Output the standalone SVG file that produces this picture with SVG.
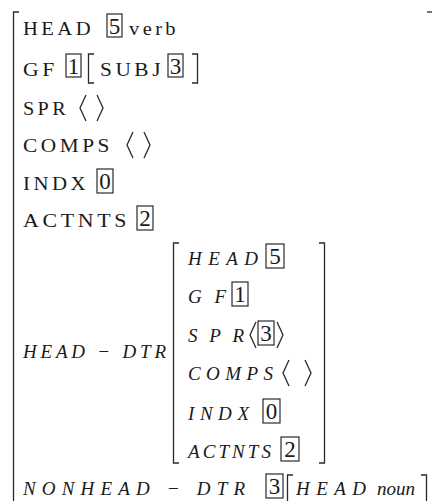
<svg xmlns="http://www.w3.org/2000/svg" width="432" height="501" viewBox="0 0 432 501">
  <style>
    .f { font-family: "Liberation Serif", "Times New Roman", serif; font-size: 18px; letter-spacing: 3px; fill: #1a1a1a; }
    .fi { font-family: "Liberation Serif", "Times New Roman", serif; font-size: 19px; font-style: italic; fill: #1a1a1a; }
    .tag { font-family: "Liberation Serif", "Times New Roman", serif; font-size: 23px; fill: #1a1a1a; text-anchor: middle; }
    .br { fill: none; stroke: #2a2a2a; stroke-width: 1.3; }
    .box { fill: none; stroke: #2a2a2a; stroke-width: 1.2; }
  </style>
  <rect width="432" height="501" fill="#ffffff"/>

  <!-- outer AVM brackets -->
  <g id="outer">
    <path class="br" d="M19,12 H13.5 V501"/>
    <path class="br" d="M427,12 H432"/>
  </g>

  <!-- HEAD [5] verb -->
  <g id="head">
    <text class="f" x="23" y="35" textLength="71" lengthAdjust="spacingAndGlyphs">HEAD</text>
    <rect class="box" x="107" y="14" width="15" height="23"/>
    <text class="tag" x="114.5" y="34">5</text>
    <text class="f" x="129" y="35" textLength="50" lengthAdjust="spacingAndGlyphs">verb</text>
  </g>

  <!-- GF [1][SUBJ [3]] -->
  <g id="gf">
    <text class="f" x="23" y="76" textLength="35" lengthAdjust="spacingAndGlyphs">GF</text>
    <rect class="box" x="66" y="54" width="15" height="23"/>
    <text class="tag" x="73.5" y="74">1</text>
    <path class="br" d="M94,54 H88.5 V83 H94"/>
    <text class="f" x="100" y="76" textLength="64" lengthAdjust="spacingAndGlyphs">SUBJ</text>
    <rect class="box" x="168" y="54" width="15" height="23"/>
    <text class="tag" x="175.5" y="74">3</text>
    <path class="br" d="M192,54 H197.5 V83 H192"/>
  </g>

  <!-- SPR < > -->
  <g id="spr">
    <text class="f" x="23" y="115" textLength="46" lengthAdjust="spacingAndGlyphs">SPR</text>
    <path class="br" d="M86,95 L80,108 L86,121"/>
    <path class="br" d="M97,95 L103,108 L97,121"/>
  </g>

  <!-- COMPS < > -->
  <g id="comps">
    <text class="f" x="23" y="152" textLength="90" lengthAdjust="spacingAndGlyphs">COMPS</text>
    <path class="br" d="M133,132 L127,145 L133,158"/>
    <path class="br" d="M144,132 L150,145 L144,158"/>
  </g>

  <!-- INDX [0] -->
  <g id="indx">
    <text class="f" x="23" y="190" textLength="66" lengthAdjust="spacingAndGlyphs">INDX</text>
    <rect class="box" x="97" y="169" width="16" height="24"/>
    <text class="tag" x="105" y="189">0</text>
  </g>

  <!-- ACTNTS [2] -->
  <g id="actnts">
    <text class="f" x="23" y="227" textLength="107" lengthAdjust="spacingAndGlyphs">ACTNTS</text>
    <rect class="box" x="137" y="206" width="16" height="24"/>
    <text class="tag" x="145" y="226">2</text>
  </g>

  <!-- HEAD-DTR with embedded AVM -->
  <g id="head-dtr">
    <text class="fi" x="23" y="358" textLength="143" lengthAdjust="spacing">HEAD − DTR</text>
    <path class="br" d="M179,243 H173.5 V463 H179"/>
    <path class="br" d="M319,243 H324.5 V463 H319"/>

    <text class="fi" x="188" y="265" textLength="70" lengthAdjust="spacing">HEAD</text>
    <rect class="box" x="266" y="244" width="18" height="24"/>
    <text class="tag" x="275" y="264">5</text>

    <text class="fi" x="188" y="303" textLength="38" lengthAdjust="spacing">GF</text>
    <rect class="box" x="232" y="282" width="16" height="24"/>
    <text class="tag" x="240" y="302">1</text>

    <text class="fi" x="188" y="342" textLength="56" lengthAdjust="spacing">SPR</text>
    <path class="br" d="M256,322 L250,335 L256,348"/>
    <rect class="box" x="258" y="321" width="16" height="24"/>
    <text class="tag" x="266" y="341">3</text>
    <path class="br" d="M277,322 L283,335 L277,348"/>

    <text class="fi" x="188" y="380" textLength="85" lengthAdjust="spacing">COMPS</text>
    <path class="br" d="M289,360 L283,373 L289,386"/>
    <path class="br" d="M305,360 L311,373 L305,386"/>

    <text class="fi" x="188" y="420" textLength="61" lengthAdjust="spacing">INDX</text>
    <rect class="box" x="263" y="399" width="17" height="24"/>
    <text class="tag" x="271.5" y="419">0</text>

    <text class="fi" x="188" y="458" textLength="83" lengthAdjust="spacing">ACTNTS</text>
    <rect class="box" x="281" y="437" width="18" height="24"/>
    <text class="tag" x="290" y="457">2</text>
  </g>

  <!-- NONHEAD-DTR [3][HEAD noun] -->
  <g id="nonhead-dtr">
    <text class="fi" x="23" y="495" textLength="222" lengthAdjust="spacing">NONHEAD − DTR</text>
    <rect class="box" x="266" y="474" width="17" height="24"/>
    <text class="tag" x="274.5" y="494">3</text>
    <path class="br" d="M293,475 H287.5 V501"/>
    <text class="fi" x="296" y="495" textLength="70" lengthAdjust="spacing">HEAD</text>
    <text class="fi" x="377" y="495" textLength="38" lengthAdjust="spacing">noun</text>
    <path class="br" d="M421,475 H426.5 V501"/>
  </g>
</svg>
